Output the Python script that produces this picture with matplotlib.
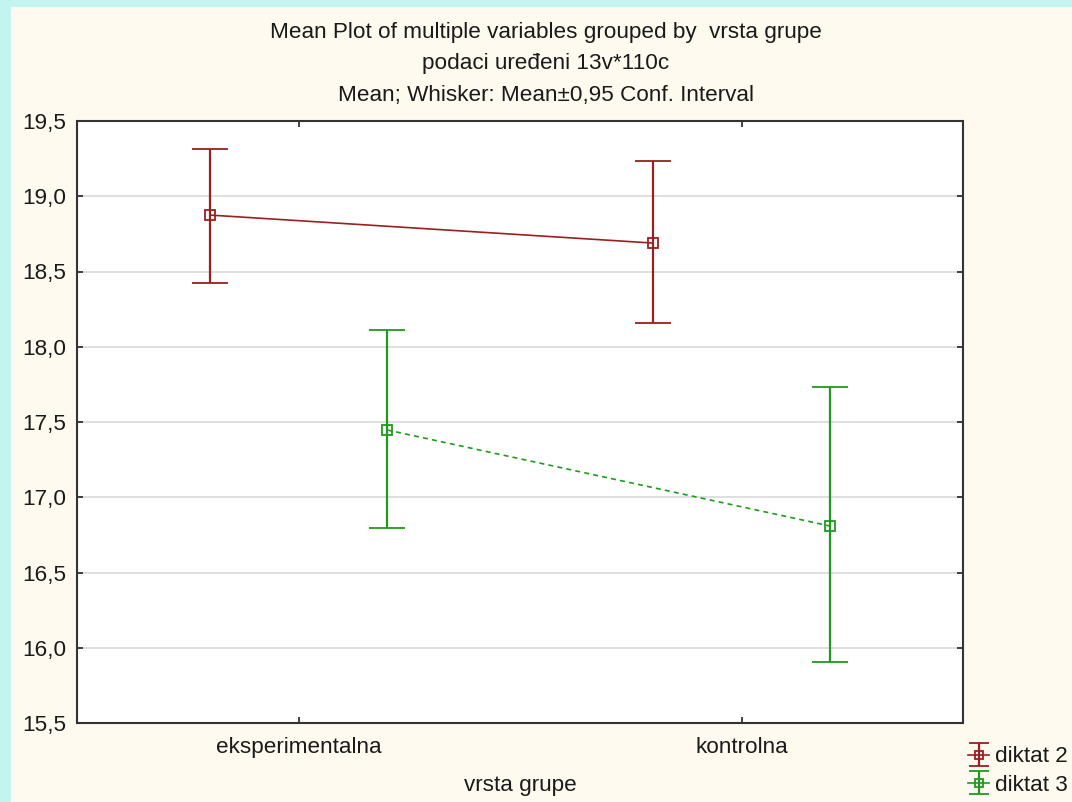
import matplotlib
matplotlib.use("Agg")
import matplotlib.pyplot as plt
import numpy as np
from matplotlib.patches import Rectangle

plt.rcParams['font.family'] = ['Liberation Sans', 'DejaVu Sans']

# Data
groups = ["eksperimentalna", "kontrolna"]
series = ["diktat 2", "diktat 3"]
means_d2 = [18.875, 18.689]
lower_d2 = [18.424, 18.158]
upper_d2 = [19.314, 19.234]
means_d3 = [17.447, 16.809]
lower_d3 = [16.796, 15.905]
upper_d3 = [18.111, 17.733]
yticks = [15.5, 16.0, 16.5, 17.0, 17.5, 18.0, 18.5, 19.0, 19.5]

W, H = 1072, 802
FS = 16.2
fig = plt.figure(figsize=(W / 100, H / 100), dpi=100)
fig.patch.set_facecolor('#c2f5f0')
fig.patches.append(Rectangle((11 / W, 0), 1 - 11 / W, 1 - 7 / H,
                             transform=fig.transFigure, facecolor='#fffaef',
                             edgecolor='none', zorder=-5))

ax = fig.add_axes([77 / W, 1 - 723 / H, (963 - 77) / W, (723 - 121) / H])
ax.set_zorder(2)
ax.set_facecolor('white')

red = '#9a1f1f'
green = '#1f9a1f'
x = np.arange(len(groups))
off = 0.2


def draw(target, xpos, m, lo, hi, color, ls, label, cap, ms):
    m = np.array(m); lo = np.array(lo); hi = np.array(hi)
    yerr = np.vstack([m - lo, hi - m])
    return target.errorbar(xpos, m, yerr=yerr, color=color, ecolor=color, linestyle=ls,
                           linewidth=1.2, elinewidth=1.6, capsize=cap, capthick=1.6,
                           marker='s', markersize=ms, markerfacecolor='none',
                           markeredgecolor=color, markeredgewidth=1.3,
                           label=label, zorder=3)


draw(ax, x - off, means_d2, lower_d2, upper_d2, red, '-', series[0], 13, 7)
draw(ax, x + off, means_d3, lower_d3, upper_d3, green, (0, (3, 2.5)), series[1], 13, 7)

# smaller glyphs for the legend keys
kax = fig.add_axes([0, 0, 0.01, 0.01])
kax.set_visible(False)
k2 = draw(kax, x - off, means_d2, lower_d2, upper_d2, red, '-', series[0], 7, 6)
k3 = draw(kax, x + off, means_d3, lower_d3, upper_d3, green, '-', series[1], 7, 6)

ax.set_xlim(-0.5, 1.5)
ax.set_ylim(15.5, 19.5)
ax.set_yticks(yticks)
ax.set_yticklabels([f"{v:.1f}".replace('.', ',') for v in yticks])
ax.set_xticks(x)
ax.set_xticklabels(groups)
ax.yaxis.grid(True, color='#dcdcdc', linewidth=1.3, zorder=0)
ax.set_axisbelow(True)
ax.tick_params(direction='in', length=4, width=1.2, colors='#222222',
               labelsize=FS, labelcolor='#1a1a1a', top=True, right=True,
               pad=8)
ax.tick_params(axis='x', pad=10)
for s in ax.spines.values():
    s.set_color('#333333')
    s.set_linewidth(1.5)

ax.set_xlabel("vrsta grupe", fontsize=FS, color='#1a1a1a', labelpad=12)

title_lines = ["Mean Plot of multiple variables grouped by  vrsta grupe",
               "podaci uređeni 13v*110c",
               "Mean; Whisker: Mean±0,95 Conf. Interval"]
for i, t in enumerate(title_lines):
    fig.text(546 / W, 1 - (32.5 + 31.5 * i) / H, t, ha='center', va='center',
             fontsize=FS, color='#1a1a1a')

leg = fig.legend(handles=[k2, k3], labels=series, loc='center left',
                 bbox_to_anchor=(968 / W, 1 - 771 / H), frameon=False,
                 fontsize=FS, handlelength=0.95, handletextpad=0.25,
                 labelspacing=0.32, borderpad=0, borderaxespad=0,
                 labelcolor='#1a1a1a')

fig.savefig("out.png", dpi=100, facecolor=fig.get_facecolor())
